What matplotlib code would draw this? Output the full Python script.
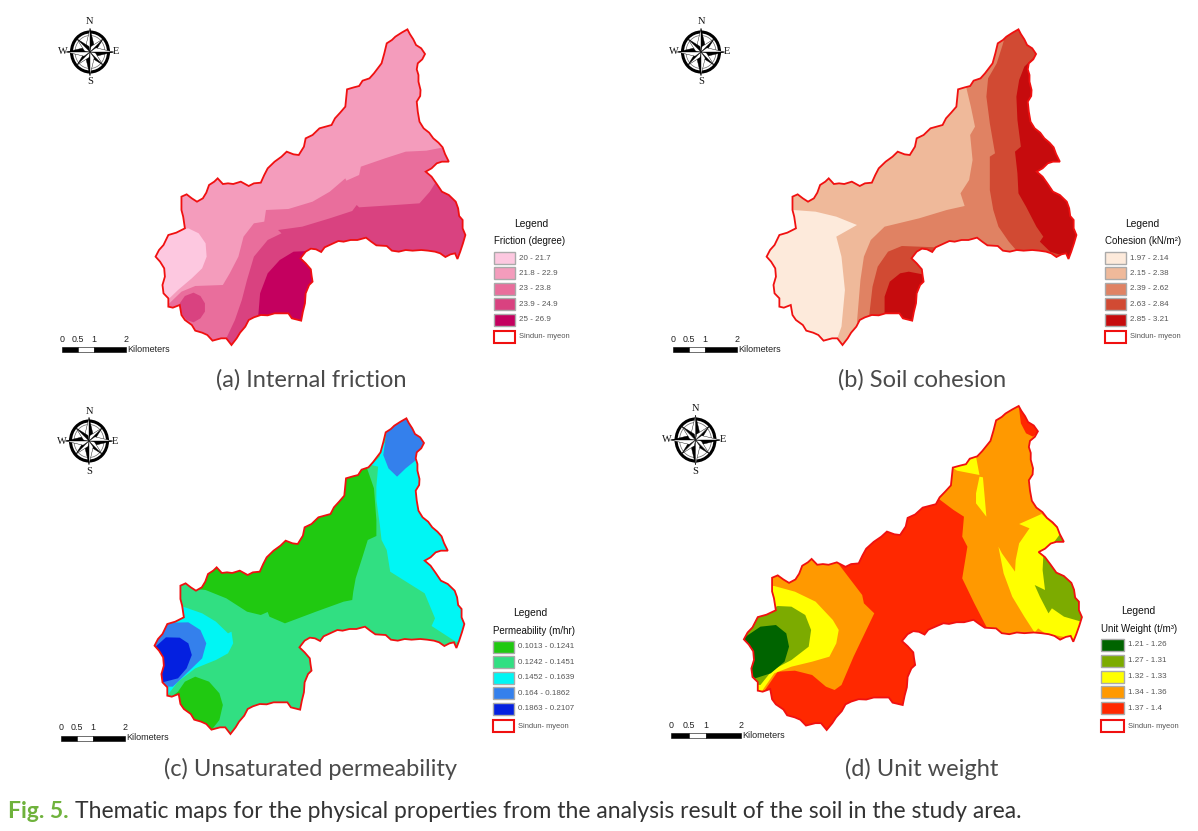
import matplotlib
matplotlib.use('Agg')
import matplotlib.pyplot as plt
from matplotlib.patches import Polygon, Rectangle, Ellipse
import numpy as np

outline = [(1065,58),(1072,72),(1082,88),(1090,105),(1105,115),(1116,132),(1108,148),(1095,160),(1092,178),(1097,195),(1097,215),
    (1103,240),(1102,258),(1092,275),(1095,305),(1100,335),(1112,355),(1128,368),(1140,385),(1155,398),(1167,412),(1174,432),(1185,455),
    (1165,455),(1150,460),(1135,475),(1118,485),(1135,500),(1150,522),(1165,545),(1185,555),(1205,575),(1212,595),(1215,618),(1225,630),
    (1225,655),(1233,675),(1226,700),(1218,725),(1210,747),(1203,730),(1190,733),(1175,741),(1160,730),(1145,725),(1125,722),(1105,720),
    (1080,722),(1060,720),(1040,725),(1020,722),(1005,708),(975,706),(960,695),(945,683),(920,690),(900,690),(880,695),(865,693),(850,700),
    (825,712),(815,726),(800,718),(785,716),(770,725),(755,745),(770,760),(785,778),(787,795),(790,815),(780,825),(770,850),(768,880),
    (762,905),(757,932),(730,925),(720,910),(695,910),(680,910),(660,916),(640,915),(620,922),(605,930),(595,950),(580,968),(570,985),
    (555,1005),(540,985),(525,985),(500,992),(485,975),(470,968),(450,962),(440,945),(420,930),(410,915),(405,885),(385,893),(372,890),
    (372,865),(358,850),(355,825),(362,800),(360,775),(348,755),(335,740),(345,720),(358,705),(372,675),(395,668),(420,655),(415,620),
    (410,600),(410,560),(425,553),(440,565),(455,575),(472,565),(482,548),(490,525),(505,515),(515,505),(530,522),(545,520),(560,522),
    (582,515),(605,528),(620,520),(640,518),(650,495),(660,475),(680,455),(700,440),(715,425),(735,433),(750,435),(765,410),(770,385),
    (790,375),(810,355),(845,345),(855,325),(870,308),(885,290),(890,238),(910,232),(925,228),(935,212),(955,205),(968,190),(990,160),
    (998,130),(1005,100),(1020,90),(1030,80),(1048,68)]

# (a) friction
friction_labels = ['20 - 21.7', '21.8 - 22.9', '23 - 23.8', '23.9 - 24.9', '25 - 26.9']
friction_colors = ['#fdc8e0', '#f49cbc', '#e96e9c', '#d94280', '#c4005f']
friction_base = 1
friction_zones = [
    (0, [(330,680),(372,665),(430,655),(460,670),(480,700),(483,740),(470,775),(440,805),(400,840),(375,865),(355,885),(320,800)]),
    (2, [(1170,412),(1120,422),(1060,425),(1000,445),(930,470),(925,495),(888,512),(885,505),(840,545),(790,575),(720,597),(655,600),
         (650,635),(620,640),(590,680),(575,740),(550,790),(530,825),(450,828),(410,845),(370,885),(360,1020),(800,1020),(1300,800),(1300,412)]),
    (3, [(1145,520),(1130,545),(1100,580),(1030,585),(925,592),(918,585),(905,603),(840,625),(760,650),(690,660),(700,670),(660,690),
         (620,740),(600,810),(585,870),(565,930),(540,985),(555,1020),(800,1020),(1300,800),(1300,510)]),
    (3, [(445,848),(465,858),(478,880),(478,905),(465,925),(445,937),(425,930),(405,905),(405,880),(420,858)]),
    (4, [(735,725),(778,723),(900,760),(900,950),(630,950),(638,850),(660,790),(695,750)]),
]

# (b) cohesion
cohesion_labels = ['1.97 - 2.14', '2.15 - 2.38', '2.39 - 2.62', '2.63 - 2.84', '2.85 - 3.21']
cohesion_colors = ['#fdeadb', '#efb99a', '#e08263', '#d14a33', '#c60b0d']
cohesion_base = 1
cohesion_zones = [
    (0, [(415,600),(480,605),(540,620),(600,645),(540,680),(555,740),(565,840),(555,950),(543,985),(558,1020),(300,1020),(300,600)]),
    (2, [(915,225),(930,290),(942,350),(928,375),(935,450),(925,510),(900,550),(912,588),(860,600),(780,625),(680,650),(640,690),(620,740),
         (610,810),(600,935),(650,1020),(1300,1020),(1300,0),(1022,50),(980,100),(930,170)]),
    (3, [(1022,105),(1005,160),(980,205),(975,260),(985,340),(1000,430),(985,440),(985,540),(995,600),(1010,650),(1040,695),(1065,725),
         (1065,800),(1300,800),(1300,0),(1050,0)]),
    (3, [(635,920),(645,830),(660,770),(690,725),(730,708),(830,712),(825,730),(900,760),(900,950),(640,950)]),
    (4, [(1115,140),(1085,170),(1070,210),(1062,260),(1065,330),(1075,410),(1058,425),(1065,490),(1068,550),(1090,590),(1120,650),(1140,680),
         (1130,695),(1160,725),(1300,770),(1300,100),(1150,100)]),
    (4, [(680,915),(680,860),(695,815),(725,790),(750,785),(800,795),(900,795),(900,950),(680,950)]),
]

# (c) permeability
perm_labels = ['0.1013 - 0.1241', '0.1242 - 0.1451', '0.1452 - 0.1639', '0.164 - 0.1862', '0.1863 - 0.2107']
perm_colors = ['#20c911', '#31df82', '#00f6f4', '#3480ec', '#0420e0']
perm_base = 1
perm_zones = [
    (0, [(460,568),(480,570),(540,595),(600,635),(640,645),(660,636),(665,650),(710,670),(800,635),(880,605),(905,600),(908,575),(915,535),
         (935,470),(950,420),(975,408),(975,360),(968,265),(948,205),(900,200),(850,280),(700,390),(620,480),(480,490)]),
    (0, [(400,875),(420,845),(450,830),(490,845),(520,880),(530,915),(520,960),(497,990),(430,1010),(370,900)]),
    (2, [(960,195),(985,170),(990,130),(1090,130),(1300,300),(1300,730),(1205,725),(1135,678),(1145,655),(1115,580),(1015,515),(1005,450),
         (990,420),(985,375),(975,300),(975,260),(980,200)]),
    (3, [(1005,90),(1060,40),(1130,100),(1115,130),(1090,180),(1060,205),(1035,230),(1010,205),(995,165)]),
    (2, [(415,620),(470,640),(510,665),(545,700),(555,695),(560,730),(545,760),(510,780),(450,805),(400,845),(370,885),(300,885),(300,620)]),
    (3, [(355,680),(375,668),(430,667),(465,690),(482,730),(470,775),(430,815),(385,860),(340,860),(300,720)]),
    (4, [(335,740),(365,712),(405,713),(430,730),(440,765),(425,805),(400,835),(355,847),(300,800)]),
]

# (d) unit weight
unit_labels = ['1.21 - 1.26', '1.27 - 1.31', '1.32 - 1.33', '1.34 - 1.36', '1.37 - 1.4']
unit_colors = ['#006400', '#7cab00', '#ffff00', '#ff9900', '#ff2800']
unit_base = 4
unit_zones = [
    (3, [(340,520),(470,460),(545,490),(615,585),(620,610),(650,640),(590,770),(555,855),(535,870),(510,860),(470,825),(420,812),(370,815),(330,875),(260,875),(260,530)]),
    (2, [(360,558),(420,575),(480,605),(530,660),(547,690),(540,730),(520,770),(470,785),(410,800),(360,820),(320,880),(260,875),(260,558)]),
    (1, [(370,618),(410,620),(450,645),(467,690),(460,740),(410,780),(355,810),(320,855),(260,850),(260,660),(305,650)]),
    (0, [(270,715),(320,680),(365,675),(395,700),(403,740),(390,785),(350,820),(305,835),(260,800)]),
    (3, [(835,295),(880,330),(910,350),(905,410),(920,440),(905,535),(940,610),(975,680),(1000,730),(1300,730),(1300,0),(1060,0),(1000,30),(950,100),(860,200)]),
    (2, [(880,205),(945,170),(955,225),(890,212)]),
    (2, [(955,230),(965,232),(970,290),(975,350),(945,310),(945,280)]),
    (4, [(1068,10),(1135,90),(1110,110),(1090,100),(1075,70)]),
    (2, [(1070,372),(1135,342),(1300,500),(1300,730),(1145,700),(1125,685),(1115,698),(1085,650),(1050,590),(1025,520),(1010,440),(1020,460),
         (1058,515),(1060,480),(1070,430),(1100,385)]),
    (1, [(1140,470),(1170,480),(1300,560),(1300,680),(1200,650),(1165,625),(1155,640),(1130,590),(1115,555),(1145,570),(1138,510)]),
    (1, [(1190,400),(1210,430),(1170,428)]),
]

captions = ['(a) Internal friction', '(b) Soil cohesion', '(c) Unsaturated permeability', '(d) Unit weight']
caption_x = [311, 922, 311, 922]
caption_y = [380, 380, 769, 769]
legend_titles = ['Friction (degree)', 'Cohesion (kN/m²)', 'Permeability (m/hr)', 'Unit Weight (t/m³)']
scale_ticks = ['0', '0.5', '1', '2']

fig = plt.figure(figsize=(11.98, 8.31), dpi=100)
ax = fig.add_axes([0, 0, 1, 1])
ax.set_xlim(0, 1198)
ax.set_ylim(831, 0)
ax.axis('off')


def crop_to_px(pts, x0, y0):
    arr = np.array(pts, dtype=float)
    return np.column_stack([x0 + arr[:, 0] * 0.345, y0 + arr[:, 1] / 3])


def draw_map(base_color, colors, zones, x0, y0, sx=1.0, sy=1.0, dx=0, dy=0):
    arr = np.array(outline, dtype=float)
    # panel (d) is stretched a bit, zones there are already in its own crop units
    if sx != 1.0:
        arr = np.column_stack([272 + (arr[:, 0] - 335) * sx, 18 + (arr[:, 1] - 58) * sy])
    arr = arr + [dx, dy]
    px = crop_to_px(arr, x0, y0)
    back = Polygon(px, closed=True, facecolor=base_color, edgecolor='none', zorder=1)
    ax.add_patch(back)
    for idx, pts in zones:
        p = Polygon(crop_to_px(pts, x0, y0), closed=True, facecolor=colors[idx], edgecolor='none', zorder=2)
        ax.add_patch(p)
        p.set_clip_path(back)
    ax.add_patch(Polygon(px, closed=True, fill=False, edgecolor='#f01010', linewidth=1.3, zorder=3))


def draw_compass(cx, cy, k=1.0):
    rx, ry = 18.5 * k, 20 * k
    ax.add_patch(Ellipse((cx, cy), 2 * rx, 2 * ry, fill=False, edgecolor='black', linewidth=2.2, zorder=4))
    ax.add_patch(Ellipse((cx, cy), 2 * rx - 7, 2 * ry - 7, fill=False, edgecolor='#666666', linewidth=0.5, zorder=4))
    c = np.array([cx, cy])
    for deg in range(0, 360, 45):
        major = deg % 90 == 0
        length = (1.28 if major else 1.0) * 18.5 * k
        wid = (4.2 if major else 3.2) * k
        t = np.radians(deg)
        tip = np.array([np.sin(t), -np.cos(t)])
        side = np.array([np.cos(t), np.sin(t)])
        ax.add_patch(Polygon([c, c + tip * length, c + tip * 0.25 * length + side * wid], closed=True, facecolor='black', edgecolor='black', linewidth=0.3, zorder=5))
        ax.add_patch(Polygon([c, c + tip * length, c + tip * 0.25 * length - side * wid], closed=True, facecolor='white', edgecolor='black', linewidth=0.3, zorder=5))
    for s, ox, oy in [('N', 0, -30), ('S', 0, 30), ('W', -27, 0), ('E', 26, 0)]:
        ax.text(cx + ox * k, cy + oy * k, s, family='Liberation Serif', fontsize=7.5, ha='center', va='center', color='#111111')


def draw_scale(x, y, seg):
    ax.add_patch(Rectangle((x, y), seg, 5, facecolor='black', edgecolor='black', linewidth=0.4, zorder=4))
    ax.add_patch(Rectangle((x + seg, y), seg, 5, facecolor='white', edgecolor='black', linewidth=0.4, zorder=4))
    ax.add_patch(Rectangle((x + 2 * seg, y), 2 * seg, 5, facecolor='black', edgecolor='black', linewidth=0.4, zorder=4))
    for s, m in zip(scale_ticks, [0, 1, 2, 4]):
        ax.text(x + m * seg, y - 8, s, fontsize=6.4, family='Liberation Sans', ha='center', va='center', color='#222222')
    ax.text(x + 4 * seg + 1, y + 2, 'Kilometers', fontsize=6.5, family='Liberation Sans', ha='left', va='center', color='#222222')


def draw_legend(x, y, title, labels, colors, step=15.4, sw=21, sh=12):
    ax.text(x + 37, y - 28, 'Legend', fontsize=7.4, family='Liberation Sans', ha='center', va='center', color='#111111')
    ax.text(x, y - 10.5, title, fontsize=7.0, family='Liberation Sans', ha='left', va='center', color='#111111')
    for i, (lab, col) in enumerate(zip(labels, colors)):
        ax.add_patch(Rectangle((x, y + i * step), sw, sh, facecolor=col, edgecolor='#aaaaaa', linewidth=1.0))
        ax.text(x + sw + 4, y + i * step + sh / 2, lab, fontsize=5.8, family='Liberation Sans', ha='left', va='center', color='#555555')
    ax.add_patch(Rectangle((x, y + 5 * step + 2), sw, sh, facecolor='white', edgecolor='#f01010', linewidth=1.5))
    ax.text(x + sw + 4, y + 5 * step + 2 + sh / 2, 'Sindun- myeon', fontsize=5.4, family='Liberation Sans', ha='left', va='center', color='#555555')


draw_map(friction_colors[friction_base], friction_colors, friction_zones, 40, 10)
draw_map(cohesion_colors[cohesion_base], cohesion_colors, cohesion_zones, 650, 10, dx=3)
draw_map(perm_colors[perm_base], perm_colors, perm_zones, 40, 400, dx=-3, dy=-3)
draw_map(unit_colors[unit_base], unit_colors, unit_zones, 650, 400, sx=980 / 898, sy=972 / 947)

draw_compass(90, 52)
draw_compass(701, 52)
draw_compass(89, 441)
draw_compass(695.5, 440, k=1.05)

draw_scale(62, 347, 16)
draw_scale(673, 347, 16)
draw_scale(61, 736, 16)
draw_scale(671, 733, 17.5)

draw_legend(494, 252, legend_titles[0], friction_labels, friction_colors)
draw_legend(1105, 252, legend_titles[1], cohesion_labels, cohesion_colors)
draw_legend(493, 641, legend_titles[2], perm_labels, perm_colors)
draw_legend(1101, 639, legend_titles[3], unit_labels, unit_colors, step=15.8, sw=23)

for s, x, y in zip(captions, caption_x, caption_y):
    ax.text(x, y, s, family='Lato', fontsize=17, ha='center', va='center', color='#4a4a4a')

ax.text(8, 812, 'Fig. 5.', family='Lato', fontweight='bold', fontsize=16.5, ha='left', va='center', color='#6fb23c')
ax.text(75, 812, 'Thematic maps for the physical properties from the analysis result of the soil in the study area.',
        family='Lato', fontsize=16.45, ha='left', va='center', color='#333333')

fig.savefig('out.png', dpi=100)
